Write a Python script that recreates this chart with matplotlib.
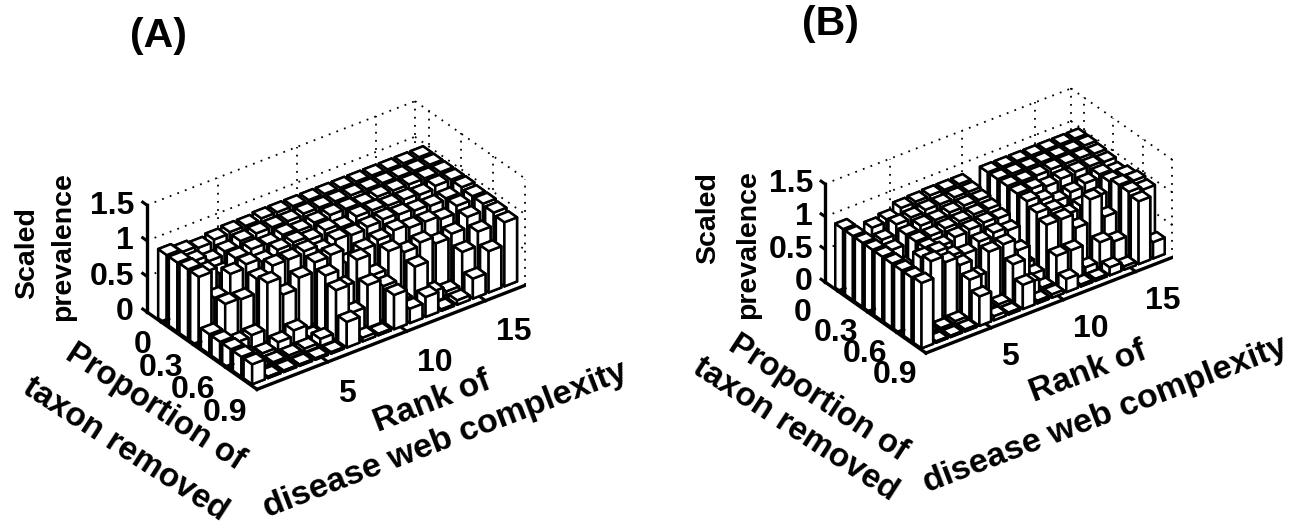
import matplotlib
matplotlib.use("Agg")
import matplotlib.pyplot as plt
import numpy as np
from mpl_toolkits.mplot3d import proj3d

plt.rcParams["font.family"] = ["Liberation Sans", "DejaVu Sans"]
plt.rcParams["font.weight"] = "bold"

ranks = np.arange(1, 18)
proportions = np.arange(9) / 10

prevalence_a = np.array([
    [.97, .93, .90, .93, .95, .95, .97, .97, .97, .97, .97, .97, .97, .97, .97, .97, .97],
    [.97, .90, .82, .87, .93, .95, .95, .95, .97, .97, .97, .97, .97, .97, .97, .97, .97],
    [.98, .85, .75, .88, .92, .90, .95, .92, .95, .97, .97, .95, .97, .97, .97, .97, .97],
    [.98, .60, .85, .90, .85, .93, .95, .90, .95, .90, .97, .97, .95, .95, .93, .97, .97],
    [.28, .62, .60, .80, .90, .90, .93, .85, .92, .90, .93, .95, .93, .90, .88, .90, .97],
    [.28, .18, .20, .85, .60, .75, .88, .90, .70, .80, .85, .90, .85, .85, .80, .90, .95],
    [.28, .08, .05, .12, .20, .02, .80, .55, .85, .55, .80, .70, .75, .65, .70, .85, .95],
    [.28, .03, .03, .04, .05, .10, .70, .30, .60, .50, .20, .60, .15, .08, .55, .75, .93],
    [.28, .02, .02, .02, .02, .02, .36, .05, .02, .48, .20, .28, .02, .06, .28, .58, .90],
])

prevalence_b = np.array([
    [.98, .30, .83, .87, .96, .97, .98, .98, .98, .50, .99, .99, .99, .99, .99, .99, .99],
    [.98, .30, .75, .90, .92, .95, .95, .97, .97, .40, .99, .99, .99, .99, .99, .99, .99],
    [.98, .25, .70, .85, .90, .90, .93, .95, .95, .30, .99, .98, .98, .99, .99, .99, .97],
    [.98, .20, .55, .85, .85, .88, .90, .92, .92, .30, .98, .97, .92, .95, .97, .97, .95],
    [.98, .15, .50, .85, .80, .85, .88, .90, .88, .25, .97, .90, .80, .85, .90, .95, .90],
    [.98, .10, .90, .90, .75, .70, .80, .85, .80, .20, .90, .85, .70, .75, .80, .95, .95],
    [.98, .06, .95, .85, .72, .45, .75, .78, .60, .15, .82, .82, .60, .95, .60, 1.0, .98],
    [.98, .04, .03, .05, .60, .05, .05, .58, .20, .05, .45, .45, .10, .40, .33, 1.0, .95],
    [1.0, .02, .02, .03, .45, .06, .03, .37, .04, .05, .20, .03, .03, .12, .05, .96, .25],
])

x_ticks = [5, 10, 15]
y_ticks = [0, 0.3, 0.6, 0.9]
y_tick_labels = ["0", "0.3", "0.6", "0.9"]
z_ticks = [0, 0.5, 1, 1.5]
z_tick_labels = ["0", "0.5", "1", "1.5"]

XLIM = (0.5, 17.5)
YLIM = (-0.13, 0.9)
ZLIM = (0, 1.5)
W, H = 1308, 523


def _grid(ax):
    style = dict(color="k", lw=1.3, linestyle=(0, (1, 3.5)), zorder=1)
    for z in z_ticks[1:]:
        ax.plot(XLIM, [YLIM[0]] * 2, [z] * 2, **style)
        ax.plot([XLIM[1]] * 2, YLIM, [z] * 2, **style)
    for x in x_ticks + [XLIM[1]]:
        ax.plot([x] * 2, [YLIM[0]] * 2, ZLIM, **style)
    for y in y_ticks:
        ax.plot([XLIM[1]] * 2, [y] * 2, ZLIM, **style)


def _bars(ax, values):
    wx, wy = 0.8, 0.08
    zo = 2
    # back to front, the painter's order for this view
    for j in range(len(ranks) - 1, -1, -1):
        for i in range(len(proportions)):
            ax.bar3d(
                ranks[j] - wx / 2, proportions[i] - wy / 2, 0,
                wx, wy, values[i, j],
                color="white", edgecolor="k", linewidth=1.8,
                shade=False, zorder=zo,
            )
            zo += 1


def _axes_lines(ax):
    line = dict(color="k", lw=2.4, zorder=1000, solid_capstyle="projecting")
    x0, x1 = XLIM
    y0, y1 = YLIM
    ax.plot([x0, x1], [y1, y1], [0, 0], **line)
    ax.plot([x0, x0], [y0, y1], [0, 0], **line)
    ax.plot([x0, x0], [y0, y0], ZLIM, **line)
    tick = dict(color="k", lw=2.2, zorder=1000)
    for x in x_ticks:
        ax.plot([x, x], [y1, y1 - 0.05], [0, 0], **tick)
    for y in y_ticks[:-1]:
        ax.plot([x0, x0 + 0.5], [y, y], [0, 0], **tick)
    for z in z_ticks:
        ax.plot([x0, x0], [y0, y0 - 0.04], [z, z], **tick)


def _to_px(ax, x, y, z):
    px, py, _ = proj3d.proj_transform(x, y, z, ax.get_proj())
    return ax.transData.transform((px, py))


def _tick_labels(fig, ax, zero_shift):
    x0 = XLIM[0]
    y0, y1 = YLIM
    font = dict(fontsize=23, fontweight="bold", va="center", transform=None)

    def put(x, y, z, text, ha):
        px, py = _to_px(ax, x, y, z)
        fig.text(px, py, text, ha=ha, **font)

    for x in x_ticks:
        put(x - 1.42, y1 + 0.308, 0, str(x), "left")
    for y, lab in zip(y_ticks, y_tick_labels):
        # panel B has its 0 pushed further out than the others
        dx, dy = zero_shift if y == 0 else (0, 0)
        put(x0 - 1.76 + dx, y + 0.17 + dy, 0, lab, "right")
    for z, lab in zip(z_ticks, z_tick_labels):
        put(x0 - 0.55, y0 - 0.04, z, lab, "right")


def _place(fig, ax, left_px, right_px):
    # put the floor's left and right corners on the given pixels
    ax.apply_aspect()
    a = _to_px(ax, XLIM[0], YLIM[0], 0)
    b = _to_px(ax, XLIM[1], YLIM[1], 0)
    bb = ax.get_window_extent()
    scale = (right_px[0] - left_px[0]) / (b[0] - a[0])
    side = bb.width * scale
    target = np.array([left_px[0], H - left_px[1]])
    cx = target[0] - (a[0] - (bb.x0 + bb.width / 2)) * scale
    cy = target[1] - (a[1] - (bb.y0 + bb.height / 2)) * scale
    ax.set_position([(cx - side / 2) / W, (cy - side / 2) / H, side / W, side / H])
    ax.apply_aspect()


def panel(fig, values, left_px, right_px, zero_shift=(0, 0)):
    ax = fig.add_axes([0.1, 0.1, 400 / W, 400 / H], projection="3d", computed_zorder=False)
    ax.set_proj_type("ortho")
    ax.view_init(elev=31.5, azim=-126.6)
    ax.set_box_aspect((333, 184, 125))
    ax.set_axis_off()
    ax.patch.set_alpha(0)
    _grid(ax)
    _bars(ax, values)
    _axes_lines(ax)
    ax.set_xlim(*XLIM)
    ax.set_ylim(YLIM[1], YLIM[0])
    ax.set_zlim(*ZLIM)
    _place(fig, ax, left_px, right_px)
    _tick_labels(fig, ax, zero_shift)
    return ax


def label(fig, x, y, text, size=20.5, rotation=0):
    fig.text(x / W, 1 - y / H, text, fontsize=size, fontweight="bold",
             rotation=rotation, ha="center", va="center")


def main():
    fig = plt.figure(figsize=(W / 100, H / 100), dpi=100)
    panel(fig, prevalence_a, (147, 312), (525, 287))
    panel(fig, prevalence_b, (825, 282), (1172, 258), zero_shift=(-0.79, -0.058))

    label(fig, 158, 36, "(A)", size=29.5)
    label(fig, 830, 24, "(B)", size=29.5)

    label(fig, 27, 253, "Scaled", rotation=90)
    label(fig, 63, 247, "prevalence", rotation=90)
    label(fig, 155, 407, "Proportion of", size=23.5, rotation=-33)
    label(fig, 125, 450, "taxon removed", size=24, rotation=-33)
    label(fig, 432, 402, "Rank of", size=24, rotation=21)
    label(fig, 445, 440, "disease web complexity", size=24.5, rotation=21)

    label(fig, 708, 218, "Scaled", rotation=90)
    label(fig, 748, 245, "prevalence", rotation=90)
    label(fig, 818, 398, "Proportion of", size=23.5, rotation=-33)
    label(fig, 795, 430, "taxon removed", size=24, rotation=-33)
    label(fig, 1088, 372, "Rank of", size=24, rotation=21)
    label(fig, 1105, 415, "disease web complexity", size=24.5, rotation=21)

    fig.savefig("out.png", dpi=100)
    plt.close(fig)


if __name__ == "__main__":
    main()
